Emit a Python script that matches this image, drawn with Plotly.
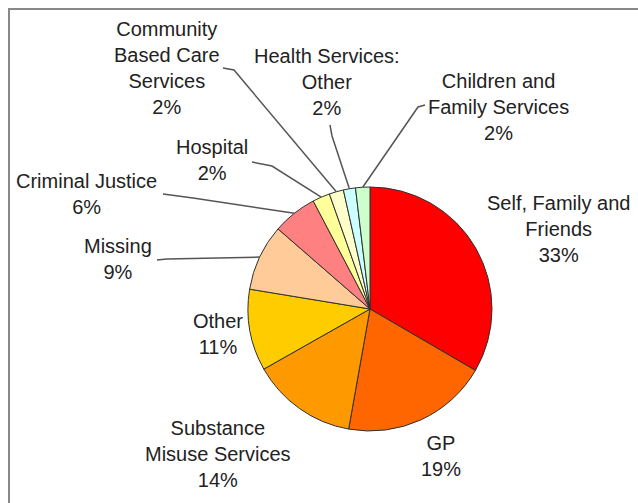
import math
import plotly.graph_objects as go

# ---- data ----
categories = ["Self, Family and Friends", "GP", "Substance Misuse Services", "Other",
              "Missing", "Criminal Justice", "Hospital", "Community Based Care Services",
              "Health Services: Other", "Children and Family Services"]
values = [33.4, 19.4, 14.0, 10.8, 8.8, 5.9, 2.3, 1.9, 1.6, 1.9]
pct_labels = ["33%", "19%", "14%", "11%", "9%", "6%", "2%", "2%", "2%", "2%"]
label_lines = ["Self, Family and<br>Friends", "GP", "Substance<br>Misuse Services", "Other",
               "Missing", "Criminal Justice", "Hospital", "Community<br>Based Care<br>Services",
               "Health Services:<br>Other", "Children and<br>Family Services"]
colors = ["#FF0000", "#FF6600", "#FF9900", "#FFCC00", "#FFCC99", "#FF8080",
          "#FFFF99", "#FFFFCC", "#CCFFFF", "#CCFFCC"]

# ---- layout (pixels) ----
W, H = 638, 503
CX, CY, R = 370, 309, 122
label_pos = [(558, 229), (441, 456), (218, 454), (218, 334), (118, 259), (86, 194),
             (212, 160), (167, 68), (327, 82), (498, 107)]
leader_pts = {4: [(157, 260), (167, 259)],
              5: [(163, 194), (193, 198)],
              6: [(252, 162), (272, 166)],
              7: [(223, 68), (234, 70)],
              8: [(330, 125), (332, 136)],
              9: [(425, 105), (418, 107)]}

def px(x):
    return x / W

def py(y):
    return 1 - y / H

fig = go.Figure(go.Pie(
    labels=categories, values=values, sort=False, direction="clockwise", rotation=0,
    marker=dict(colors=colors, line=dict(color="#303030", width=1)),
    textinfo="none", hoverinfo="label+percent", showlegend=False,
    domain=dict(x=[px(CX - R), px(CX + R)], y=[py(CY + R), py(CY - R)]),
))

annotations = []
for i, (txt, pct) in enumerate(zip(label_lines, pct_labels)):
    x, y = label_pos[i]
    annotations.append(dict(
        x=px(x), y=py(y), xref="paper", yref="paper", text=f"{txt}<br>{pct}",
        showarrow=False, align="center", xanchor="center", yanchor="middle",
        font=dict(family="Liberation Sans, Arial", size=20, color="#222222")))

shapes = []
total = sum(values)
cum = 0
mids = []
for v in values:
    mids.append((cum + v / 2) / total * 2 * math.pi)
    cum += v
for i, pts in leader_pts.items():
    a = mids[i]
    ex = CX + R * math.sin(a)
    ey = CY - R * math.cos(a)
    allp = pts + [(ex, ey)]
    path = "M " + " L ".join(f"{px(x)},{py(y)}" for x, y in allp)
    shapes.append(dict(type="path", xref="paper", yref="paper", path=path,
                       line=dict(color="#555555", width=1.5)))

# frame
shapes.append(dict(type="line", xref="paper", yref="paper", x0=px(8), y0=py(9), x1=px(640), y1=py(9),
                   line=dict(color="#888888", width=2)))
shapes.append(dict(type="line", xref="paper", yref="paper", x0=px(9), y0=py(8), x1=px(9), y1=py(505),
                   line=dict(color="#888888", width=2)))

fig.update_layout(width=W, height=H, margin=dict(l=0, r=0, t=0, b=0),
                  paper_bgcolor="white", plot_bgcolor="white",
                  annotations=annotations, shapes=shapes)

fig.write_html("out.html")
